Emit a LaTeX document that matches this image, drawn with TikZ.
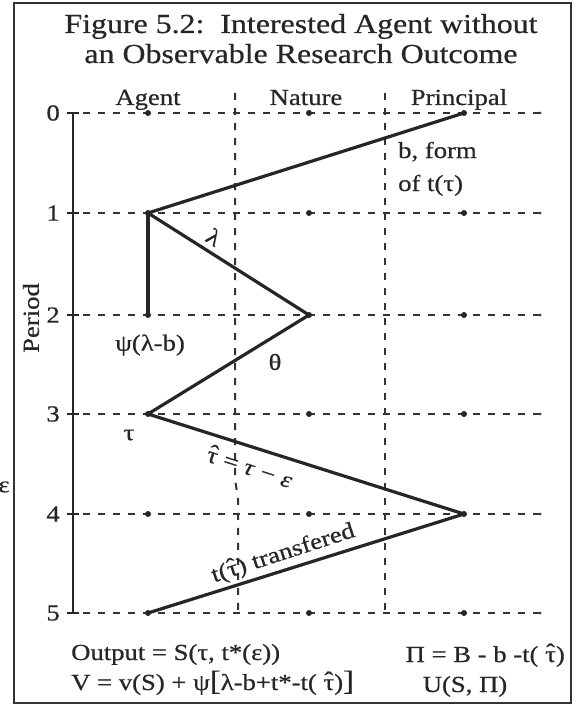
\documentclass[tikz,border=0pt]{standalone}
\usepackage{fontspec}
\setmainfont{Liberation Serif}[FakeStretch=1.16,FakeBold=0.6]
\newlength\hatwd
\newcommand{\hattau}{\leavevmode\settowidth\hatwd{τ}\rlap{\hbox to\hatwd{\hss\raisebox{.1em}{ˆ}\hss}}τ}

\begin{document}
\begin{tikzpicture}[x=1pt,y=-1pt,
  every node/.style={inner sep=0pt, text=black!85, font=\fontsize{23}{30}\selectfont},
  titletext/.style={font=\fontsize{27.5}{32}\selectfont, anchor=base},
  rowlabel/.style={anchor=east},
  gridline/.style={line width=2pt, black!80, dash pattern=on 7pt off 8pt},
  moveline/.style={line width=3.2pt, black!85, line join=round, line cap=round},
  coldot/.style={circle, fill=black!85, minimum size=6pt},
  enddot/.style={circle, fill=black!75, minimum size=3pt}]

\useasboundingbox (0,0) rectangle (586,706);
\draw[line width=2.8pt, black!80] (14,3) rectangle (571,703);

\node[titletext] (title1) at (301,33) {Figure 5.2:\ \ Interested Agent without};
\node[titletext] (title2) at (301,63) {an Observable Research Outcome};

\node[anchor=base] (agent) at (148,105) {Agent};
\node[anchor=base] (nature) at (306,105) {Nature};
\node[anchor=base] (principal) at (459,105) {Principal};

\node[rotate=90] (period) at (31,318) {Period};
\node (eps) at (4,487) {ε};

\draw[gridline] (235,93) -- (235,478) -- (238,500) -- (238,613);
\draw[gridline] (385,93) -- (385,613);

\foreach \r/\y in {0/113,1/213,2/315,3/414,4/514,5/613}{
  \node[rowlabel] (row\r) at (60,\y) {\r};
  \draw[line width=2.2pt, black!85] (67,\y) -- (79,\y);
  \draw[gridline] (83,\y) -- (540,\y);
  \node[coldot] (a\r) at (148,\y) {};
  \node[coldot] (n\r) at (309,\y) {};
  \node[coldot] (p\r) at (464,\y) {};
  \node[enddot] (e\r) at (540,\y) {};
}
\draw[line width=2.4pt, black!85] (73,113) -- (73,613);

\draw[moveline] (p0.center) -- (a1.center) -- (n2.center) -- (a3.center) -- (p4.center) -- (a5.center);
\draw[moveline] (a1.center) -- (a2.center);

\node[anchor=base west] (bform) at (398,158) {b, form};
\node[anchor=base west] (oft) at (398,191) {of t(τ)};
\node[rotate=-33] (lambda) at (214,237) {λ};
\node (psi) at (150,345) {ψ(λ-b)};
\node (theta) at (275,362) {θ};
\node (tau) at (129,435) {τ};
\node[rotate=-18] (tauhat) at (250,466) {\hattau\ = \textit{τ} − \textit{ε}};
\node[rotate=18] (transfer) at (283,553) {t(\hattau) transfered};

\node[anchor=base west] (output) at (71,660) {Output = S(τ, t*(ε))};
\node[anchor=base west] (vfun) at (71,690) {V = v(S) + ψ{\fontsize{28}{30}\selectfont[}λ-b+t*-t( \hattau){\fontsize{28}{30}\selectfont]}};
\node[anchor=base east] (pifun) at (565,662) {Π = B - b -t( \hattau)};
\node[anchor=base] (ufun) at (465,692) {U(S, Π)};
\end{tikzpicture}
\end{document}
